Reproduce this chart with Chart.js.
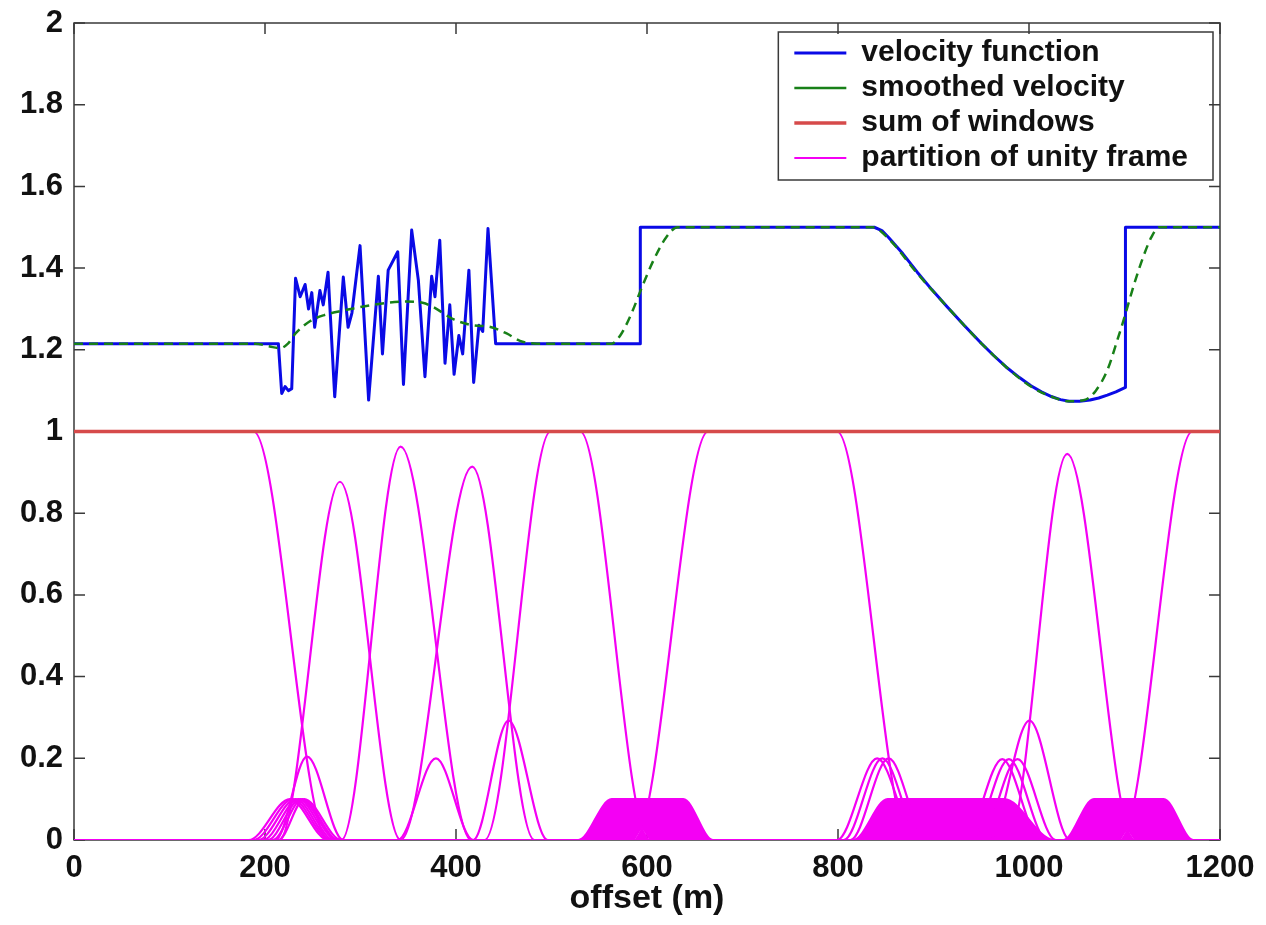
<!DOCTYPE html>
<html>
<head>
<meta charset="utf-8">
<title>Velocity smoothing with a partition of unity frame</title>
<script src="https://cdn.jsdelivr.net/npm/chart.js@4.4.1/dist/chart.umd.min.js"></script>
<style>
  html, body { margin: 0; padding: 0; background: #ffffff; }
  #wrap { width: 1266px; height: 925px; }
</style>
</head>
<body>
<div id="wrap"><canvas id="chart" width="1266" height="925"></canvas></div>
<script>
// ---- axis ticks ----
const xTickValues = [0, 200, 400, 600, 800, 1000, 1200];
const xTickLabels = ['0', '200', '400', '600', '800', '1000', '1200'];
const yTickValues = [0, 0.2, 0.4, 0.6, 0.8, 1, 1.2, 1.4, 1.6, 1.8, 2];
const yTickLabels = ['0', '0.2', '0.4', '0.6', '0.8', '1', '1.2', '1.4', '1.6', '1.8', '2'];

// ---- velocity function (offset in m, velocity) ----
const velOffset = [0, 214, 217.5, 221, 224.5, 228, 232, 236.8, 242, 245.6, 249, 252, 257.5, 261, 266,
  273, 282, 287, 291, 299.5, 308.5, 318.7, 323, 329, 339, 345, 353.6, 360.6, 367.5, 374.5, 378,
  383, 388.5, 393.5, 398, 403, 407, 413.5, 418.5, 424, 428, 433.5, 441.5, 593, 593, 838, 846,
  853, 868, 883, 898, 914, 932, 950, 963, 976, 990, 1002, 1013, 1024, 1033, 1042, 1053, 1064,
  1073, 1082, 1091, 1101, 1101, 1200];
const velValue = [1.215, 1.215, 1.093, 1.11, 1.1, 1.105, 1.375, 1.33, 1.36, 1.3, 1.34, 1.255, 1.345, 1.31, 1.39,
  1.085, 1.378, 1.255, 1.29, 1.455, 1.077, 1.38, 1.19, 1.395, 1.44, 1.115, 1.493, 1.37, 1.134, 1.38, 1.33,
  1.468, 1.167, 1.31, 1.14, 1.235, 1.19, 1.395, 1.12, 1.26, 1.245, 1.497, 1.215, 1.215, 1.5, 1.5, 1.492,
  1.475, 1.435, 1.39, 1.348, 1.306, 1.26, 1.216, 1.186, 1.158, 1.132, 1.112, 1.097, 1.085, 1.078, 1.074, 1.074, 1.077,
  1.082, 1.089, 1.097, 1.108, 1.5, 1.5];

// ---- smoothed velocity ----
const smoothOffset = [0, 190, 205, 216, 224, 232, 247, 262, 280, 313, 348, 365, 376, 397, 418, 436, 453, 467, 485,
  563, 572, 583, 595, 607, 620, 632, 836, 853, 883, 914, 950, 976, 1002, 1024, 1042, 1058, 1070, 1082, 1092,
  1100, 1110, 1120, 1128, 1136, 1200];
const smoothValue = [1.215, 1.215, 1.208, 1.204, 1.215, 1.24, 1.27, 1.285, 1.295, 1.31, 1.318, 1.315, 1.305, 1.275, 1.26, 1.256, 1.24, 1.222, 1.215,
  1.215, 1.235, 1.285, 1.355, 1.42, 1.475, 1.5, 1.5, 1.472, 1.387, 1.306, 1.216, 1.158, 1.11, 1.085, 1.074, 1.077, 1.1, 1.15, 1.22,
  1.28, 1.36, 1.43, 1.475, 1.5, 1.5];

// ---- sum of windows ----
const sumOffset = [0, 1200];
const sumValue = [1, 1];

// ---- partition of unity frame: single tapered windows ----
// rise start, plateau start, plateau end, fall end, height
const winRise     = [0,   215,   280,   342,   430, 587, 978,  1096, 211,   339, 418,   183, 188, 193, 198, 203, 208, 214, 799, 806,   813, 932,   939,   948,   958];
const winTopStart = [0,   278.5, 342,   417,   499, 664, 1040, 1171, 244,   379, 455,   226, 229, 232, 235, 237, 239, 241, 841, 846.5, 853, 972,   979,   988,   1000.5];
const winTopEnd   = [188, 278.5, 342,   417,   530, 799, 1040, 1200, 244,   379, 455,   226, 229, 232, 235, 237, 239, 241, 841, 846.5, 853, 972,   979,   988,   1000.5];
const winFall     = [266, 342,   416,   482,   602, 875, 1110, 1200, 282,   418, 496,   266, 268, 270, 272, 275, 277, 280, 883, 887,   893, 1012,  1019,  1028,  1043];
const winHeight   = [1,   0.877, 0.963, 0.914, 1,   1,   0.945, 1,   0.204, 0.2, 0.292, 0.1, 0.1, 0.1, 0.1, 0.1, 0.1, 0.1, 0.2, 0.2,   0.2, 0.198, 0.198, 0.198, 0.292];

// ---- partition of unity frame: densely packed narrow windows (drawn as filled bands) ----
const bandRise     = [528, 816, 1036];
const bandTopStart = [563, 852, 1068];
const bandTopEnd   = [638, 974, 1141];
const bandFall     = [669, 1026, 1172];
const bandHeight   = [0.1, 0.1, 0.1];

// gaps under the bands where the windows on either side of a velocity jump meet
const notchCenter    = [594.7, 1103];
const notchHalfWidth = [7.5, 7];
const notchHeight    = [0.029, 0.025];

const X_MIN = 0, X_MAX = 1200;
const FONT = '"Liberation Sans", Arial, Helvetica, sans-serif';
const MAGENTA = 'rgb(244, 0, 244)';

function zip(xs, ys) { return xs.map((x, i) => ({ x: x, y: ys[i] })); }

function taperPoints(rise, topStart, topEnd, fall, h) {
  const pts = [];
  if (rise > X_MIN) pts.push({ x: X_MIN, y: 0 }, { x: rise, y: 0 });
  pts.push({ x: topStart, y: h });
  if (topEnd > topStart) pts.push({ x: topEnd, y: h });
  if (fall > topEnd) {
    pts.push({ x: fall, y: 0 });
    if (fall < X_MAX) pts.push({ x: X_MAX, y: 0 });
  }
  return pts;
}

function floorPoints() {
  const pts = [{ x: X_MIN, y: 0 }];
  notchCenter.forEach((c, i) => {
    pts.push({ x: c - notchHalfWidth[i], y: 0 }, { x: c, y: notchHeight[i] }, { x: c + notchHalfWidth[i], y: 0 });
  });
  pts.push({ x: X_MAX, y: 0 });
  return pts;
}

const datasets = [
  {
    label: 'velocity function', data: zip(velOffset, velValue),
    borderColor: 'rgb(10, 10, 230)', backgroundColor: 'rgb(10, 10, 230)',
    borderWidth: 3, tension: 0, order: 1
  },
  {
    label: 'smoothed velocity', data: zip(smoothOffset, smoothValue),
    borderColor: 'rgb(24, 128, 24)', backgroundColor: 'rgb(24, 128, 24)',
    borderWidth: 2.5, borderDash: [9, 6], cubicInterpolationMode: 'monotone', order: 0
  },
  {
    label: 'sum of windows', data: zip(sumOffset, sumValue),
    borderColor: 'rgb(214, 74, 74)', backgroundColor: 'rgb(214, 74, 74)',
    borderWidth: 3.5, order: 2
  }
];

winRise.forEach((r, i) => {
  datasets.push({
    label: 'partition of unity frame',
    data: taperPoints(r, winTopStart[i], winTopEnd[i], winFall[i], winHeight[i]),
    borderColor: MAGENTA, backgroundColor: MAGENTA, borderWidth: 2.2,
    cubicInterpolationMode: 'monotone', order: 3
  });
});

// lower edge of the packed bands: the axis, except where a gap opens up
const floorIndex = datasets.length;
datasets.push({
  label: 'partition of unity frame', data: floorPoints(),
  borderColor: 'rgba(0, 0, 0, 0)', backgroundColor: MAGENTA, borderWidth: 1, tension: 0, order: 3
});

bandRise.forEach((r, i) => {
  datasets.push({
    label: 'partition of unity frame',
    data: taperPoints(r, bandTopStart[i], bandTopEnd[i], bandFall[i], bandHeight[i]),
    borderColor: MAGENTA, backgroundColor: MAGENTA, borderWidth: 2.2,
    fill: { target: floorIndex }, cubicInterpolationMode: 'monotone', order: 3
  });
});

const LEGEND_ITEMS = 4;

// box around the axes with inward tick marks, plus the legend frame
const framePlugin = {
  id: 'frame',
  beforeDraw(chart) {
    const lg = chart.legend, a = chart.chartArea;
    if (!lg || !lg.columnSizes || !lg.columnSizes.length) return;
    const pad = lg.options.labels.padding;
    const colW = lg.columnSizes[0].width;
    const boxRight = a.right - 7;
    const x0 = boxRight - 25 - colW;
    const w = lg.width, h = lg.height;
    lg.left = x0 - pad; lg.right = lg.left + w;
    lg.top = a.top + 15 - pad; lg.bottom = lg.top + h;
    const fs = lg.options.labels.font.size;
    chart.$legendFrame = {
      l: x0 - 16, r: boxRight, t: a.top + 9,
      b: a.top + 15 + LEGEND_ITEMS * (fs + pad) - pad + 7
    };
  },
  beforeDatasetsDraw(chart) {
    const { ctx, chartArea: a, scales: { x, y } } = chart;
    ctx.save();
    ctx.strokeStyle = '#3a3a3a';
    ctx.lineWidth = 1.5;
    ctx.strokeRect(a.left, a.top, a.right - a.left, a.bottom - a.top);
    ctx.beginPath();
    const tl = 11;
    xTickValues.forEach(v => {
      const px = x.getPixelForValue(v);
      ctx.moveTo(px, a.bottom); ctx.lineTo(px, a.bottom - tl);
      ctx.moveTo(px, a.top); ctx.lineTo(px, a.top + tl);
    });
    yTickValues.forEach(v => {
      const py = y.getPixelForValue(v);
      ctx.moveTo(a.left, py); ctx.lineTo(a.left + tl, py);
      ctx.moveTo(a.right, py); ctx.lineTo(a.right - tl, py);
    });
    ctx.stroke();
    ctx.restore();
  },
  afterDraw(chart) {
    const f = chart.$legendFrame;
    if (!f) return;
    const ctx = chart.ctx;
    ctx.save();
    ctx.strokeStyle = '#3a3a3a';
    ctx.lineWidth = 1.5;
    ctx.strokeRect(f.l, f.t, f.r - f.l, f.b - f.t);
    ctx.restore();
  }
};

new Chart(document.getElementById('chart'), {
  type: 'line',
  data: { datasets: datasets },
  options: {
    responsive: false,
    animation: false,
    devicePixelRatio: 1,
    layout: { padding: { left: 0, right: 46, top: 23, bottom: 0 } },
    elements: { point: { radius: 0, hoverRadius: 0 }, line: { borderJoinStyle: 'round' } },
    plugins: {
      tooltip: { enabled: false },
      filler: { propagate: false },
      legend: {
        position: 'chartArea',
        align: 'start',
        labels: {
          usePointStyle: true,
          pointStyle: 'line',
          pointStyleWidth: 52,
          padding: 5,
          color: '#111111',
          font: { family: FONT, size: 30, weight: 'bold' },
          filter: (item) => item.datasetIndex < LEGEND_ITEMS,
          sort: (a, b) => a.datasetIndex - b.datasetIndex
        }
      }
    },
    scales: {
      x: {
        type: 'linear', min: X_MIN, max: X_MAX,
        afterBuildTicks: (s) => { s.ticks = xTickValues.map(v => ({ value: v })); },
        afterFit: (s) => { s.height = 85; },
        grid: { display: false, drawTicks: false },
        border: { display: false },
        ticks: {
          autoSkip: false, maxRotation: 0, padding: 10, color: '#111111',
          font: { family: FONT, size: 31, weight: 'bold' },
          callback: (v, i) => xTickLabels[i]
        },
        title: {
          display: true, text: 'offset (m)', color: '#111111',
          font: { family: FONT, size: 34, weight: 'bold' },
          padding: { top: 0, bottom: 6 }
        }
      },
      y: {
        type: 'linear', min: 0, max: 2,
        afterBuildTicks: (s) => { s.ticks = yTickValues.map(v => ({ value: v })); },
        afterFit: (s) => { s.width = 74; s.paddingTop = 0; s.paddingBottom = 0; },
        grid: { display: false, drawTicks: false },
        border: { display: false },
        ticks: {
          autoSkip: false, padding: 11, color: '#111111',
          font: { family: FONT, size: 31, weight: 'bold' },
          callback: (v, i) => yTickLabels[i]
        }
      }
    }
  },
  plugins: [framePlugin]
});
</script>
</body>
</html>
